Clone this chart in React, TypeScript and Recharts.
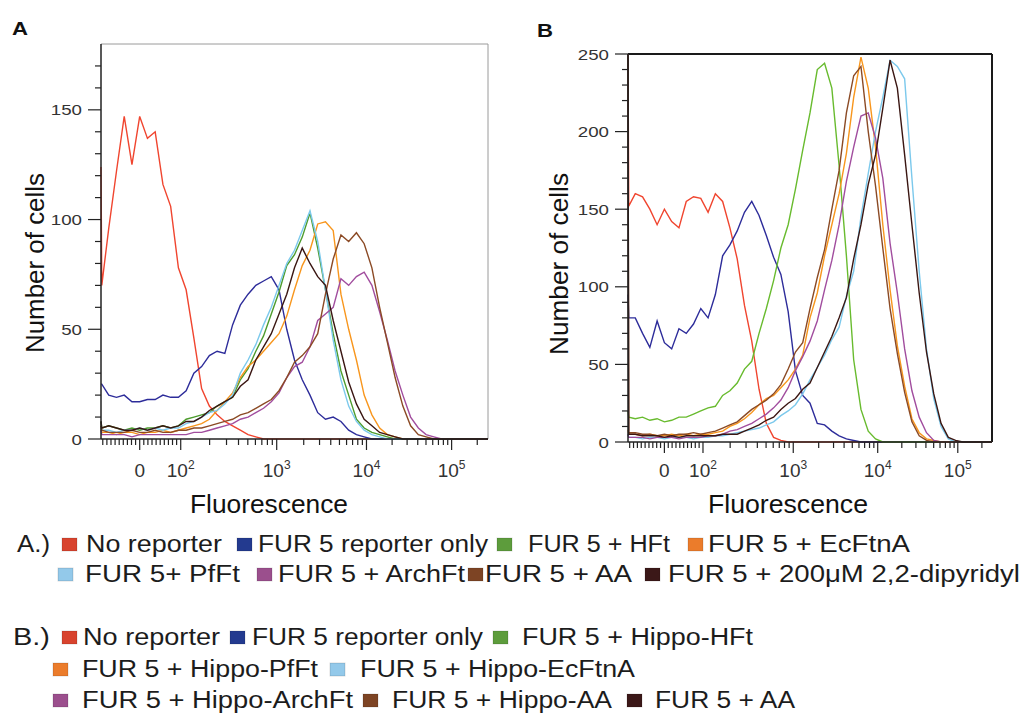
import React from 'react';
import { LineChart, Line, XAxis, YAxis, ReferenceLine } from 'recharts';

// channel bins (first bin is the off-scale pile-up at the left edge)
const CH = [0, 2, 20, 40, 60, 80, 100, 120, 140, 160, 180, 200, 220, 240, 260, 280, 300, 320, 340, 360, 380, 400, 420, 440, 460, 480, 500, 520, 540, 560, 580, 600, 620, 640, 660, 680, 700, 720, 740, 760, 780, 800, 820, 840, 860, 880, 900, 920, 940, 960, 980, 1000];

// panel A counts per channel
const A_RED = [124, 70, 96, 122, 147, 125, 147, 137, 140, 116, 106, 78, 68, 46, 23, 15, 11, 8, 6, 4, 2, 1, 0, 0, 0, 0, 0, 0, 0, 0, 0, 0, 0, 0, 0, 0, 0, 0, 0, 0, 0, 0, 0, 0, 0, 0, 0, 0, 0, 0, 0, 0];
const A_BLUE = [25, 25, 20, 19, 20, 17, 17, 18, 18, 20, 19, 19, 22, 30, 33, 38, 40, 39, 52, 61, 66, 70, 72, 74, 68, 50, 36, 27, 20, 12, 9, 10, 8, 4, 2, 1, 0, 0, 0, 0, 0, 0, 0, 0, 0, 0, 0, 0, 0, 0, 0, 0];
const A_GREEN = [8, 5, 6, 5, 4, 5, 4, 5, 5, 6, 5, 6, 9, 10, 11, 12, 15, 17, 19, 27, 32, 40, 47, 57, 67, 79, 84, 92, 103, 87, 68, 48, 31, 20, 9, 5, 3, 2, 1, 0, 0, 0, 0, 0, 0, 0, 0, 0, 0, 0, 0, 0];
const A_ORANGE = [6, 3, 3, 2, 3, 3, 2, 3, 3, 4, 3, 4, 5, 6, 7, 9, 13, 17, 21, 28, 33, 36, 40, 44, 48, 56, 68, 79, 86, 98, 99, 95, 66, 50, 36, 20, 11, 5, 2, 1, 0, 0, 0, 0, 0, 0, 0, 0, 0, 0, 0, 0];
const A_LIGHTBLUE = [5, 4, 4, 3, 4, 4, 5, 4, 5, 4, 5, 5, 7, 8, 10, 12, 13, 16, 20, 30, 36, 43, 52, 60, 70, 80, 86, 95, 104, 90, 68, 45, 27, 15, 8, 4, 2, 1, 0, 0, 0, 0, 0, 0, 0, 0, 0, 0, 0, 0, 0, 0];
const A_PURPLE = [4, 2, 2, 2, 2, 1, 2, 2, 2, 2, 2, 2, 2, 3, 3, 4, 5, 6, 7, 9, 10, 12, 14, 17, 21, 28, 33, 35, 42, 54, 57, 60, 73, 70, 74, 76, 70, 58, 45, 31, 20, 10, 5, 2, 1, 0, 0, 0, 0, 0, 0, 0];
const A_BROWN = [6, 4, 3, 3, 3, 4, 3, 3, 4, 3, 3, 4, 4, 5, 5, 6, 7, 8, 9, 11, 12, 14, 16, 18, 22, 28, 35, 38, 42, 48, 66, 82, 93, 90, 94, 89, 78, 60, 44, 28, 15, 6, 2, 1, 0, 0, 0, 0, 0, 0, 0, 0];
const A_DARK = [8, 5, 6, 5, 4, 4, 5, 4, 5, 6, 5, 6, 8, 8, 10, 13, 15, 17, 19, 24, 27, 36, 42, 48, 57, 66, 78, 87, 80, 74, 70, 54, 40, 26, 16, 9, 6, 3, 2, 1, 0, 0, 0, 0, 0, 0, 0, 0, 0, 0, 0, 0];

// panel B counts per channel
const B_RED = [250, 152, 160, 158, 150, 140, 150, 142, 138, 155, 158, 157, 148, 160, 155, 138, 118, 88, 65, 34, 12, 3, 1, 0, 0, 0, 0, 0, 0, 0, 0, 0, 0, 0, 0, 0, 0, 0, 0, 0, 0, 0, 0, 0, 0, 0, 0, 0, 0, 0, 0, 0];
const B_BLUE = [95, 80, 80, 70, 61, 78, 64, 60, 73, 70, 76, 86, 80, 95, 120, 127, 136, 148, 155, 146, 133, 119, 108, 84, 46, 30, 25, 12, 11, 7, 4, 2, 1, 0, 0, 0, 0, 0, 0, 0, 0, 0, 0, 0, 0, 0, 0, 0, 0, 0, 0, 0];
const B_GREEN = [20, 16, 15, 16, 14, 15, 13, 14, 16, 16, 18, 20, 22, 23, 30, 33, 38, 47, 52, 70, 86, 104, 125, 140, 163, 188, 212, 240, 244, 228, 178, 120, 53, 21, 7, 2, 0, 0, 0, 0, 0, 0, 0, 0, 0, 0, 0, 0, 0, 0, 0, 0];
const B_ORANGE = [8, 5, 5, 4, 5, 4, 4, 5, 4, 5, 4, 5, 5, 6, 7, 10, 12, 15, 19, 24, 28, 30, 35, 40, 47, 56, 80, 96, 120, 140, 160, 186, 222, 248, 228, 190, 140, 98, 62, 36, 15, 6, 2, 1, 0, 0, 0, 0, 0, 0, 0, 0];
const B_LIGHTBLUE = [5, 3, 3, 2, 3, 3, 2, 3, 3, 3, 2, 3, 3, 4, 4, 5, 6, 7, 8, 9, 11, 13, 17, 20, 24, 31, 40, 48, 56, 66, 74, 94, 110, 145, 173, 200, 222, 246, 242, 234, 170, 110, 60, 28, 10, 2, 0, 0, 0, 0, 0, 0];
const B_PURPLE = [5, 3, 3, 3, 2, 3, 3, 3, 2, 3, 3, 3, 4, 4, 5, 7, 8, 10, 12, 15, 18, 22, 27, 35, 46, 55, 65, 78, 98, 117, 140, 168, 190, 210, 212, 196, 170, 128, 96, 60, 33, 16, 6, 1, 0, 0, 0, 0, 0, 0, 0, 0];
const B_BROWN = [250, 6, 6, 5, 5, 4, 5, 4, 5, 5, 6, 5, 6, 7, 9, 11, 13, 17, 21, 24, 27, 31, 37, 47, 58, 64, 86, 106, 124, 150, 175, 212, 236, 242, 200, 165, 125, 86, 57, 32, 13, 4, 1, 0, 0, 0, 0, 0, 0, 0, 0, 0];
const B_DARK = [250, 5, 5, 4, 4, 4, 3, 4, 3, 4, 4, 4, 4, 4, 5, 5, 5, 7, 9, 11, 14, 16, 21, 25, 28, 34, 38, 48, 58, 68, 80, 93, 118, 140, 166, 185, 215, 246, 228, 185, 140, 96, 58, 31, 12, 3, 1, 0, 0, 0, 0, 0];

const NAMES_A = ['No reporter', 'FUR 5 reporter only', 'FUR 5 + HFt', 'FUR 5 + EcFtnA', 'FUR 5+ PfFt', 'FUR 5 + ArchFt', 'FUR 5 + AA', 'FUR 5 + 200μM 2,2-dipyridyl'];
const NAMES_B = ['No reporter', 'FUR 5 reporter only', 'FUR 5 + Hippo-HFt', 'FUR 5 + Hippo-PfFt', 'FUR 5 + Hippo-EcFtnA', 'FUR 5 + Hippo-ArchFt', 'FUR 5 + Hippo-AA', 'FUR 5 + AA'];

const Y_TICKS_A = [0, 10, 20, 30, 40, 50, 60, 70, 80, 90, 100, 110, 120, 130, 140, 150, 160, 170];
const Y_TICKS_B = [0, 10, 20, 30, 40, 50, 60, 70, 80, 90, 100, 110, 120, 130, 140, 150, 160, 170, 180, 190, 200, 210, 220, 230, 240, 250];

// fluorescence values that get a labelled tick
const X_MAJOR = [
  { v: 0, base: '0', exp: '' },
  { v: 100, base: '10', exp: '2' },
  { v: 1000, base: '10', exp: '3' },
  { v: 10000, base: '10', exp: '4' },
  { v: 100000, base: '10', exp: '5' },
];
const X_LINEAR_MINOR = [-90, -80, -70, -60, -50, -40, -30, -20, -10, 10, 20, 30, 40, 50, 60, 70, 80, 90];
const X_LOG_MINOR = [2, 3, 4, 5, 6, 7, 8, 9];

const LINE_A = { red: '#f0452f', blue: '#2d2c9a', green: '#4d9c2e', orange: '#f8961d', lightblue: '#7cc9ec', purple: '#a14d9e', brown: '#8b4a25', dark: '#3a1612' };
const LINE_B = { ...LINE_A, green: '#68bb2e' };
const SWATCH = { red: '#d8432e', blue: '#233a8f', green: '#5d9c3c', orange: '#eb7c2b', lightblue: '#93c9ea', purple: '#9b4f8d', brown: '#7d4424', dark: '#3b1818' };
const KEYS = ['red', 'blue', 'green', 'orange', 'lightblue', 'purple', 'brown', 'dark'] as const;

// biexponential-like display transform: fluorescence value -> channel
const DECADES = [[2, 206], [3, 454], [4, 686], [5, 906]];
const toChannel = (v: number) => {
  if (v <= 100) return 100 + v * 1.06;
  const d = Math.log10(v);
  for (let i = 0; i < DECADES.length - 1; i++) {
    const [d0, c0] = DECADES[i];
    const [d1, c1] = DECADES[i + 1];
    if (d <= d1) return c0 + (d - d0) * (c1 - c0);
  }
  return 906 + (d - 5) * 220;
};

const majorByChannel = new Map<number, { base: string; exp: string }>();
X_MAJOR.forEach((m) => majorByChannel.set(toChannel(m.v), m));
const X_TICKS = [
  ...X_LINEAR_MINOR.map(toChannel),
  ...X_MAJOR.map((m) => toChannel(m.v)),
  ...[2, 3, 4, 5].flatMap((n) => X_LOG_MINOR.map((m) => toChannel(m * Math.pow(10, n)))),
].filter((c) => c >= 0 && c <= 1000).sort((a, b) => a - b);

const FONT = '"Liberation Sans", Arial, Helvetica, sans-serif';

const buildRows = (series: number[][]) =>
  CH.map((ch, i) => {
    const row: Record<string, number> = { ch };
    KEYS.forEach((k, j) => (row[k] = series[j][i]));
    return row;
  });

const dataA = buildRows([A_RED, A_BLUE, A_GREEN, A_ORANGE, A_LIGHTBLUE, A_PURPLE, A_BROWN, A_DARK]);
const dataB = buildRows([B_RED, B_BLUE, B_GREEN, B_ORANGE, B_LIGHTBLUE, B_PURPLE, B_BROWN, B_DARK]);

const XTick = ({ x, y, payload, labelDy }: any) => {
  const m = majorByChannel.get(payload.value);
  return (
    <g>
      <line x1={x} y1={y} x2={x} y2={y + (m ? 11 : 6)} stroke="#222" strokeWidth={1.2} />
      {m && (
        <text x={x} y={y + labelDy} textAnchor="middle" fontFamily={FONT} fontSize={19} fill="#333">
          <tspan>{m.base}</tspan>
          {m.exp && <tspan fontSize={12} dy={-8}>{m.exp}</tspan>}
        </text>
      )}
    </g>
  );
};

const YTick = ({ x, y, payload }: any) => {
  const major = payload.value % 50 === 0;
  const label = String(payload.value);
  return (
    <g>
      <line x1={x - (major ? 13 : 6)} y1={y} x2={x} y2={y} stroke="#222" strokeWidth={1.2} />
      {major && (
        <text x={x - 19} y={y + 5.5} textAnchor="end" fontFamily={FONT} fontSize={15} fill="#333"
          textLength={label.length * 10.4} lengthAdjust="spacingAndGlyphs">
          {label}
        </text>
      )}
    </g>
  );
};

// axes need a non-zero size to be drawn, so they get 1px and the margin gives up 1px
const Histogram = ({ data, colors, yMax, yTicks, margin, width, height, labelDy, frame }: any) => (
  <LineChart width={width} height={height} data={data} margin={margin}>
    <XAxis type="number" dataKey="ch" domain={[0, 1000]} ticks={X_TICKS} interval={0}
      height={1} tickSize={0} tickMargin={0} tickLine={false}
      axisLine={{ stroke: '#222', strokeWidth: 1.5 }}
      tick={(p: any) => <XTick {...p} labelDy={labelDy} />} />
    <YAxis type="number" domain={[0, yMax]} ticks={yTicks} interval={0}
      width={1} tickSize={0} tickMargin={0} tickLine={false}
      axisLine={{ stroke: '#222', strokeWidth: 1.5 }}
      tick={(p: any) => <YTick {...p} />} />
    <ReferenceLine y={yMax} stroke={frame.color} strokeWidth={frame.width} />
    <ReferenceLine x={1000} stroke={frame.color} strokeWidth={frame.width} />
    {KEYS.map((k) => (
      <Line key={k} type="linear" dataKey={k} stroke={colors[k]} strokeWidth={1.4}
        dot={false} isAnimationActive={false} />
    ))}
  </LineChart>
);

// legend layout: swatch x, text x, text width per item
const LEGEND_ROWS = [
  { y: 552, prefix: 'A.)', px: 17, pw: 33, names: NAMES_A, items: [[0, 62, 86, 136], [1, 237, 258, 230], [2, 497, 528, 142], [3, 688, 708, 202]] },
  { y: 582, prefix: '', px: 0, pw: 0, names: NAMES_A, items: [[4, 58, 85, 155], [5, 257, 278, 187], [6, 468, 485, 147], [7, 645, 668, 352]] },
  { y: 645, prefix: 'B.)', px: 13, pw: 37, names: NAMES_B, items: [[0, 62, 83, 137], [1, 230, 252, 231], [2, 493, 522, 231]] },
  { y: 677, prefix: '', px: 0, pw: 0, names: NAMES_B, items: [[3, 53, 82, 236], [4, 330, 360, 275]] },
  { y: 708, prefix: '', px: 0, pw: 0, names: NAMES_B, items: [[5, 53, 82, 271], [6, 363, 392, 220], [7, 627, 655, 140]] },
];

export default function App() {
  return (
    <div style={{ position: 'absolute', left: 0, top: 0, width: 1023, height: 716, background: '#fff', overflow: 'hidden' }}>
      <div style={{ position: 'absolute', left: 0, top: 0 }}>
        <Histogram data={dataA} colors={LINE_A} yMax={180} yTicks={Y_TICKS_A} width={500} height={530}
          margin={{ top: 44, right: 12, bottom: 90, left: 100 }} labelDy={38}
          frame={{ color: '#9a9a9a', width: 1 }} />
      </div>
      <div style={{ position: 'absolute', left: 500, top: 0 }}>
        <Histogram data={dataB} colors={LINE_B} yMax={250} yTicks={Y_TICKS_B} width={523} height={530}
          margin={{ top: 54, right: 31, bottom: 87, left: 127 }} labelDy={35}
          frame={{ color: '#1a1a1a', width: 2 }} />
      </div>
      <svg width={1023} height={716} style={{ position: 'absolute', left: 0, top: 0, pointerEvents: 'none' }}
        fontFamily={FONT}>
        <text x={12} y={35} fontSize={18} fontWeight="bold" fill="#111" textLength={16} lengthAdjust="spacingAndGlyphs">A</text>
        <text x={537} y={37} fontSize={18} fontWeight="bold" fill="#111" textLength={16} lengthAdjust="spacingAndGlyphs">B</text>
        <text transform="translate(44,263) rotate(-90)" textAnchor="middle" fontSize={26} fill="#111"
          textLength={180} lengthAdjust="spacingAndGlyphs">Number of cells</text>
        <text transform="translate(568,264) rotate(-90)" textAnchor="middle" fontSize={26} fill="#111"
          textLength={182} lengthAdjust="spacingAndGlyphs">Number of cells</text>
        <text x={190} y={513} fontSize={26} fill="#111" textLength={158} lengthAdjust="spacingAndGlyphs">Fluorescence</text>
        <text x={708} y={513} fontSize={26} fill="#111" textLength={160} lengthAdjust="spacingAndGlyphs">Fluorescence</text>
        {LEGEND_ROWS.map((row, r) => (
          <g key={r}>
            {row.prefix && (
              <text x={row.px} y={row.y} fontSize={23} fill="#1c1c1c" textLength={row.pw} lengthAdjust="spacingAndGlyphs">{row.prefix}</text>
            )}
            {row.items.map(([idx, sx, tx, tw]) => (
              <g key={idx}>
                <rect x={sx} y={row.y - 14} width={15} height={13} fill={SWATCH[KEYS[idx]]} stroke="#00000022" />
                <text x={tx} y={row.y} fontSize={23} fill="#1c1c1c" textLength={tw} lengthAdjust="spacingAndGlyphs">
                  {row.names[idx]}
                </text>
              </g>
            ))}
          </g>
        ))}
      </svg>
    </div>
  );
}
